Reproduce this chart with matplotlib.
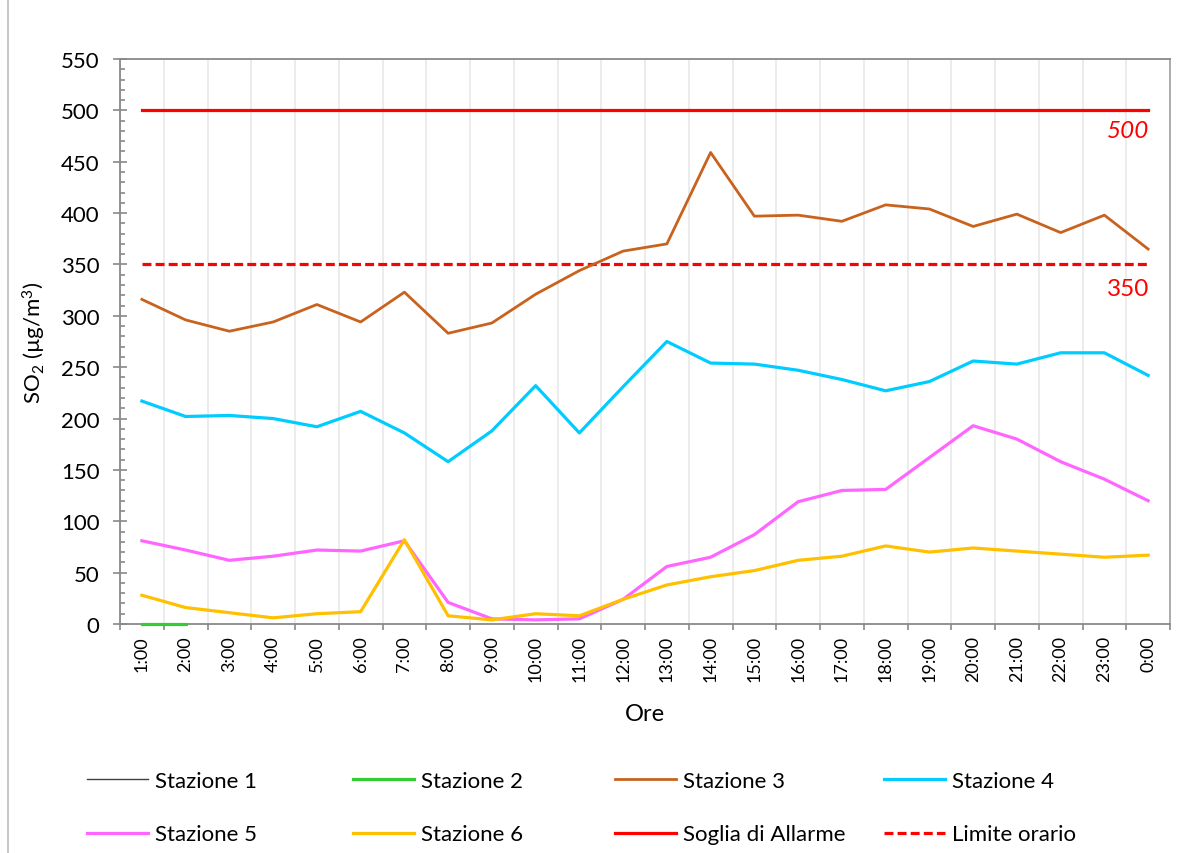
import numpy as np
import matplotlib.pyplot as plt
from matplotlib.lines import Line2D

plt.rcParams['font.family'] = ['Lato', 'DejaVu Sans']
plt.rcParams['mathtext.fontset'] = 'custom'
plt.rcParams['mathtext.rm'] = 'Lato'
plt.rcParams['mathtext.it'] = 'Lato:italic'

ore = ['1:00', '2:00', '3:00', '4:00', '5:00', '6:00', '7:00', '8:00', '9:00', '10:00',
       '11:00', '12:00', '13:00', '14:00', '15:00', '16:00', '17:00', '18:00', '19:00',
       '20:00', '21:00', '22:00', '23:00', '0:00']

nan = np.nan
stazione1 = [nan, nan, nan, nan, nan, nan, nan, nan, nan, nan, nan, nan,
             nan, nan, nan, nan, nan, nan, nan, nan, nan, nan, nan, nan]
stazione2 = [0, 0, nan, nan, nan, nan, nan, nan, nan, nan, nan, nan,
             nan, nan, nan, nan, nan, nan, nan, nan, nan, nan, nan, nan]
stazione3 = [316, 296, 285, 294, 311, 294, 323, 283, 293, 321, 344, 363,
             370, 459, 397, 398, 392, 408, 404, 387, 399, 381, 398, 365]
stazione4 = [217, 202, 203, 200, 192, 207, 186, 158, 188, 232, 186, 231,
             275, 254, 253, 247, 238, 227, 236, 256, 253, 264, 264, 242]
stazione5 = [81, 72, 62, 66, 72, 71, 81, 21, 5, 4, 5, 24,
             56, 65, 87, 119, 130, 131, 162, 193, 180, 158, 141, 120]
stazione6 = [28, 16, 11, 6, 10, 12, 82, 8, 4, 10, 8, 24,
             38, 46, 52, 62, 66, 76, 70, 74, 71, 68, 65, 67]
soglia_allarme = 500
limite_orario = 350

x = np.arange(len(ore))

fig = plt.figure(figsize=(11.95, 8.54), dpi=100)
ax = fig.add_axes([120 / 1195, 1 - 625 / 854, 1050 / 1195, 565 / 854])

ax.plot(x, [soglia_allarme] * len(x), color='#FF0000', lw=2.3, label='Soglia di Allarme')
ax.plot(x, [limite_orario] * len(x), color='#FF0000', lw=2.3, ls=(0, (2.8, 1.3)), label='Limite orario')
ax.plot(x, stazione1, color='#404040', lw=1.0, label='Stazione 1')
ax.plot(x, stazione2, color='#33CC33', lw=2.3, label='Stazione 2', zorder=5, clip_on=False)
ax.plot(x, stazione3, color='#C8621C', lw=2.0, label='Stazione 3')
ax.plot(x, stazione4, color='#00CCFF', lw=2.3, label='Stazione 4')
ax.plot(x, stazione5, color='#FF66FF', lw=2.3, label='Stazione 5')
ax.plot(x, stazione6, color='#FFC000', lw=2.3, label='Stazione 6')

ax.annotate('500', xy=(x[-1], soglia_allarme), xytext=(1, -14.5), textcoords='offset points',
            ha='right', va='center', color='#FF0000', fontsize=17.5, style='italic')
ax.annotate('350', xy=(x[-1], limite_orario), xytext=(1, -17), textcoords='offset points',
            ha='right', va='center', color='#FF0000', fontsize=17.5)

ax.set_xlim(-0.5, len(ore) - 0.5)
ax.set_ylim(0, 550)
ax.set_yticks(np.arange(0, 551, 50))
ax.set_yticks(np.arange(0, 551, 10), minor=True)
ax.set_xticks(x)
ax.set_xticklabels(ore, rotation=90)
ax.set_xticks(np.arange(-0.5, len(ore)), minor=True)

axis_col = '#898989'
for s in ax.spines.values():
    s.set_color(axis_col)
    s.set_linewidth(1.3)
ax.spines['right'].set_color('#a6a6a6')

ax.tick_params(axis='y', which='major', direction='inout', length=9.5, width=1.2,
               color=axis_col, labelsize=16, pad=10)
ax.tick_params(axis='y', which='minor', direction='in', length=3.6, width=1.2, color=axis_col)
ax.tick_params(axis='x', which='major', length=0, labelsize=13, pad=8)
ax.tick_params(axis='x', which='minor', direction='out', length=4.3, width=1.2, color=axis_col)
ax.grid(True, axis='x', which='minor', color='#ebebeb', lw=1.3)
ax.set_axisbelow(True)

ax.set_ylabel('SO$_2$ (µg/m$^3$)', fontsize=16, labelpad=9)
ax.set_xlabel('Ore', fontsize=17, labelpad=16)

# legend, four columns placed like Excel
handles, labels = ax.get_legend_handles_labels()
lookup = dict(zip(labels, handles))
columns = [('Stazione 1', 'Stazione 5'), ('Stazione 2', 'Stazione 6'),
           ('Stazione 3', 'Soglia di Allarme'), ('Stazione 4', 'Limite orario')]
col_x = [87, 353, 615, 884]
for xs, col in zip(col_x, columns):
    leg = fig.legend([lookup[c] for c in col], list(col), loc='upper left',
                     bbox_to_anchor=(xs / 1195, 1 - 772 / 854), frameon=False,
                     borderpad=0, borderaxespad=0, handlelength=2.75, handletextpad=0.32,
                     labelspacing=1.5, fontsize=16)

fig.add_artist(Line2D([8 / 1195, 8 / 1195], [0, 1], color='#bfbfbf', lw=1.2))

fig.savefig('out.png', dpi=100)
